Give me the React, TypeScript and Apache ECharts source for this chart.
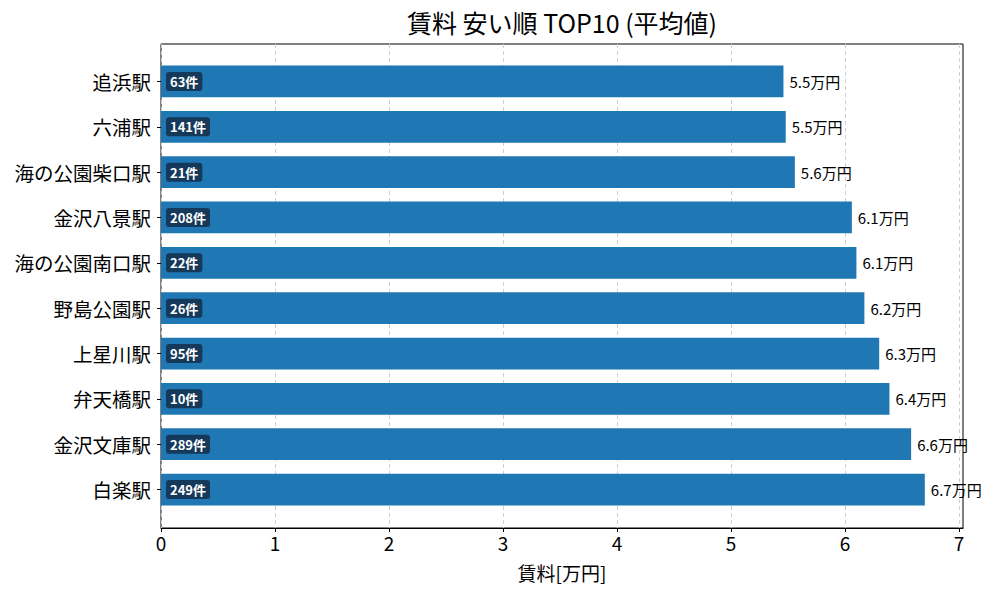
import { useEffect, useRef } from 'react';
import * as echarts from 'echarts';

// 駅ごとの平均賃料（万円）と物件数
const stations = [
    '追浜駅', '六浦駅', '海の公園柴口駅', '金沢八景駅', '海の公園南口駅',
    '野島公園駅', '上星川駅', '弁天橋駅', '金沢文庫駅', '白楽駅'
];
const rents = [5.46, 5.48, 5.56, 6.06, 6.1, 6.17, 6.3, 6.39, 6.58, 6.7];
const counts = [63, 141, 21, 208, 22, 26, 95, 10, 289, 249];
const xTicks = [0, 1, 2, 3, 4, 5, 6, 7];

const FONT = '"Noto Sans CJK JP", "Noto Sans", sans-serif';
const X_MAX = 7.035;

export default function App() {
    const chartRef = useRef<HTMLDivElement>(null);

    useEffect(() => {
        if (!chartRef.current) return;
        document.body.style.margin = '0';
        const chart = echarts.init(chartRef.current, null, { renderer: 'svg' });

        const option: echarts.EChartsOption = {
            animation: false,
            textStyle: { fontFamily: FONT },
            title: {
                text: '賃料 安い順 TOP10 (平均値)',
                left: 562,
                top: 9,
                textAlign: 'center',
                padding: 0,
                textStyle: { fontSize: 25, fontWeight: 'normal', color: '#000', fontFamily: FONT }
            },
            grid: [
                // 枠とグリッド線
                { left: 161, right: 37, top: 44, height: 484, show: true, borderColor: '#000', borderWidth: 1 },
                // 棒グラフ本体（matplotlibの余白に合わせる）
                { left: 161, right: 37, top: 58.8, height: 453.4 }
            ],
            xAxis: [
                {
                    gridIndex: 0,
                    type: 'value',
                    min: 0,
                    max: X_MAX,
                    interval: 1,
                    name: '賃料[万円]',
                    nameLocation: 'middle',
                    nameGap: 35,
                    nameTextStyle: { fontSize: 19, color: '#000', fontFamily: FONT },
                    axisLine: { show: true, lineStyle: { color: '#000', width: 1 } },
                    axisTick: { show: true, length: 4, lineStyle: { color: '#000' }, customValues: xTicks },
                    axisLabel: { fontSize: 19, color: '#000', margin: 5, customValues: xTicks },
                    splitLine: { show: true, lineStyle: { color: '#cfcfcf', type: [4, 3], width: 1 } }
                },
                {
                    gridIndex: 1,
                    type: 'value',
                    min: 0,
                    max: X_MAX,
                    show: false
                }
            ],
            yAxis: [
                { gridIndex: 0, type: 'value', min: 0, max: 1, show: false },
                {
                    gridIndex: 1,
                    type: 'category',
                    data: stations,
                    inverse: true,
                    axisLine: { show: false },
                    axisTick: { show: true, alignWithLabel: true, length: 4, lineStyle: { color: '#000' } },
                    axisLabel: { fontSize: 19.5, color: '#000', margin: 10 }
                }
            ],
            series: [
                {
                    type: 'bar',
                    xAxisIndex: 1,
                    yAxisIndex: 1,
                    data: rents,
                    barWidth: '70%',
                    itemStyle: { color: '#1f77b4' },
                    label: {
                        show: true,
                        position: 'right',
                        distance: 6,
                        fontSize: 15,
                        color: '#000',
                        fontFamily: FONT,
                        formatter: (p: any) => `${p.value.toFixed(1)}万円`
                    }
                },
                {
                    type: 'bar',
                    xAxisIndex: 1,
                    yAxisIndex: 1,
                    data: rents,
                    barWidth: '70%',
                    barGap: '-100%',
                    itemStyle: { color: 'rgba(0,0,0,0)' },
                    silent: true,
                    label: {
                        show: true,
                        position: 'insideLeft',
                        distance: 5,
                        fontSize: 13,
                        fontWeight: 'bold',
                        color: '#fff',
                        fontFamily: FONT,
                        backgroundColor: '#15395a',
                        borderRadius: 3,
                        padding: [3, 4, 3, 4],
                        formatter: (p: any) => `${counts[p.dataIndex]}件`
                    }
                }
            ]
        };

        chart.setOption(option);
        return () => chart.dispose();
    }, []);

    return <div ref={chartRef} style={{ width: 1000, height: 600 }} />;
}
